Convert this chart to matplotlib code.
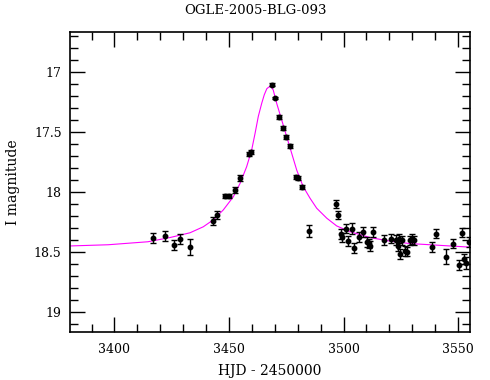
import numpy as np
import matplotlib
matplotlib.use("Agg")
import matplotlib.pyplot as plt
from matplotlib.ticker import MultipleLocator

# photometry (HJD - 2450000, I mag, error)
hjd = [3416.8, 3422.1, 3426.0, 3428.6, 3433.0, 3443.0, 3444.8, 3448.3, 3450.0,
       3452.6, 3454.8, 3458.7, 3459.6, 3468.8, 3470.1, 3471.8, 3473.6, 3474.9,
       3476.6, 3479.3, 3480.1, 3481.9, 3485.0,
       3496.7, 3497.7, 3498.9, 3499.3, 3501.1, 3501.8, 3503.6, 3504.7, 3506.6,
       3508.7, 3510.1, 3511.1, 3511.7, 3512.7, 3517.8, 3520.7, 3523.1, 3524.1,
       3523.8, 3524.7, 3525.7, 3526.9, 3527.7, 3529.0, 3529.9, 3530.8, 3538.6,
       3540.5, 3544.8, 3547.8, 3550.6, 3551.6, 3552.6, 3553.5, 3554.8]
mag = [18.383, 18.367, 18.442, 18.392, 18.458, 18.242, 18.192, 18.033, 18.033,
       17.983, 17.883, 17.683, 17.667, 17.108, 17.217, 17.375, 17.467, 17.542,
       17.617, 17.875, 17.883, 17.958, 18.325,
       18.098, 18.194, 18.348, 18.378, 18.306, 18.411, 18.306, 18.469, 18.373,
       18.333, 18.419, 18.428, 18.448, 18.336, 18.398, 18.389, 18.398, 18.389,
       18.450, 18.517, 18.403, 18.492, 18.497, 18.403, 18.394, 18.403, 18.461,
       18.347, 18.539, 18.431, 18.608, 18.339, 18.558, 18.589, 18.417]
err = [0.045, 0.045, 0.045, 0.04, 0.07, 0.035, 0.03, 0.02, 0.02,
       0.025, 0.025, 0.02, 0.02, 0.012, 0.012, 0.015, 0.015, 0.02,
       0.015, 0.02, 0.02, 0.02, 0.05,
       0.035, 0.035, 0.04, 0.04, 0.04, 0.04, 0.045, 0.04, 0.04,
       0.045, 0.04, 0.04, 0.04, 0.04, 0.04, 0.04, 0.04, 0.04,
       0.04, 0.045, 0.04, 0.04, 0.04, 0.04, 0.04, 0.04, 0.04,
       0.04, 0.065, 0.04, 0.045, 0.04, 0.045, 0.05, 0.045]

# model curve
model_t = [3380.6, 3397.2, 3414.6, 3424.2, 3433.0, 3438.8, 3443.1, 3447.5,
           3451.9, 3454.8, 3457.7, 3459.9, 3461.4, 3462.8, 3464.3, 3465.4,
           3466.5, 3467.3, 3467.9, 3468.6, 3469.3, 3470.8, 3473.0, 3475.2,
           3477.4, 3479.6, 3482.4, 3485.4, 3488.3, 3492.7, 3497.0, 3502.8,
           3511.6, 3520.3, 3529.0, 3537.8, 3546.5, 3555.2]
model_mag = [18.45, 18.44, 18.415, 18.38, 18.34, 18.29, 18.233, 18.15,
             18.04, 17.93, 17.79, 17.65, 17.51, 17.37, 17.26, 17.19,
             17.14, 17.127, 17.122, 17.13, 17.15, 17.26, 17.40, 17.54,
             17.68, 17.82, 17.956, 18.053, 18.136, 18.219, 18.283, 18.331,
             18.38, 18.41, 18.43, 18.44, 18.45, 18.46]

font = "DejaVu Serif"
fig = plt.figure(figsize=(4.9, 3.8), dpi=100)
ax = fig.add_axes([70/490, 48/380, 400/490, 300/380])

ax.plot(model_t, model_mag, color="#ff00ff", lw=0.8, zorder=1)
ax.errorbar(hjd, mag, yerr=err, fmt="o", color="black", ms=3.2,
            elinewidth=1.0, capsize=2.5, capthick=1.0, zorder=2)

ax.set_xlim(3380.6, 3555.2)
ax.set_ylim(19.167, 16.667)

ax.xaxis.set_major_locator(MultipleLocator(50))
ax.xaxis.set_minor_locator(MultipleLocator(10))
ax.yaxis.set_minor_locator(MultipleLocator(0.1))
ax.set_yticks([17, 17.5, 18, 18.5, 19])
ax.set_yticklabels(["17", "17.5", "18", "18.5", "19"])

ax.tick_params(which="both", direction="in", top=True, right=True, width=1.0)
ax.tick_params(which="major", length=11)
ax.tick_params(which="minor", length=5.5)
ax.tick_params(axis="x", pad=8)
ax.tick_params(axis="y", pad=6)
for lab in ax.get_xticklabels() + ax.get_yticklabels():
    lab.set_fontfamily(font)
    lab.set_fontsize(9)
for s in ax.spines.values():
    s.set_linewidth(1.2)

ax.set_xlabel("HJD - 2450000", fontfamily=font, fontsize=10, labelpad=6)
ax.set_ylabel("I magnitude", fontfamily=font, fontsize=10, labelpad=10)
fig.text(0.5 + 10/490, 1 - 11/380, "OGLE-2005-BLG-093", ha="center", va="center",
         fontfamily=font, fontsize=9.5)

fig.savefig("out.png", dpi=100)
